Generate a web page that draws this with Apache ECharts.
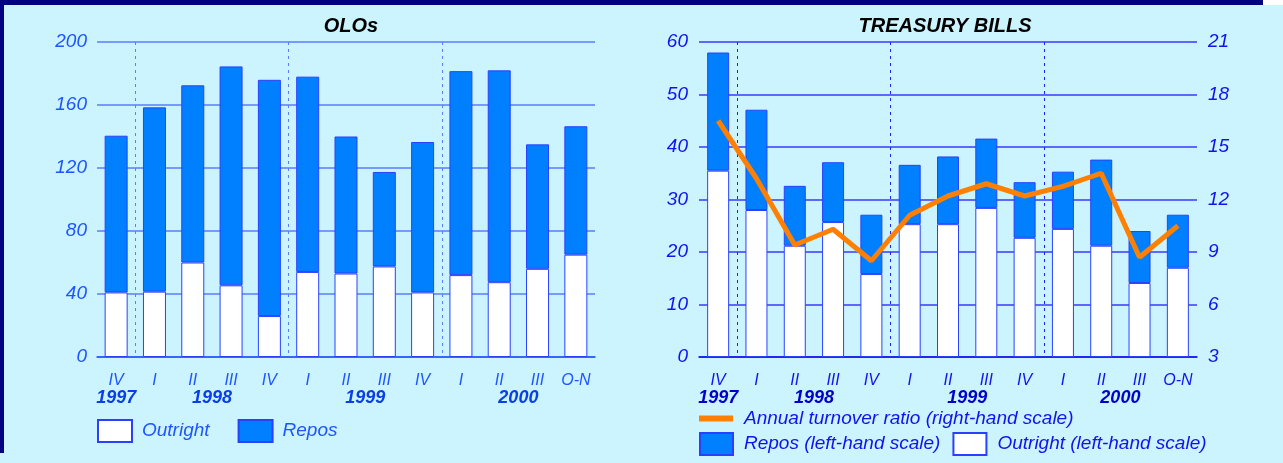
<!DOCTYPE html>
<html>
<head>
<meta charset="utf-8">
<script src="https://cdn.jsdelivr.net/npm/echarts@6/dist/echarts.min.js"></script>
<style>
  html, body { margin: 0; padding: 0; background: #ccf4fe; }
  #wrap { position: relative; width: 1283px; height: 463px; background: #ccf4fe; overflow: hidden; }
  #topband { position: absolute; left: 0; top: 0; width: 1263px; height: 5px; background: #000080; }
  #topwhite { position: absolute; left: 1263px; top: 0; width: 20px; height: 5px; background: #ffffff; }
  #leftband { position: absolute; left: 0; top: 0; width: 4px; height: 453px; background: #000080; }
  #chart { position: absolute; left: 0; top: 0; width: 1283px; height: 463px; }
</style>
</head>
<body>
<div id="wrap">
  <div id="topband"></div>
  <div id="topwhite"></div>
  <div id="leftband"></div>
  <div id="chart"></div>
</div>
<script>
// ---- Data ----
const quarters = ['IV', 'I', 'II', 'III', 'IV', 'I', 'II', 'III', 'IV', 'I', 'II', 'III', 'O-N'];
const yearLabels = ['1997', '1998', '1999', '2000'];
const yearStart = [0, 1, 5, 9];
const yearSpan = [1, 4, 4, 4];

const oloOutright = [41, 41.5, 60, 45.5, 26, 54, 53, 57.5, 41, 52, 47.5, 56, 65];
const oloRepos = [99.5, 117, 112.5, 139, 150, 124, 87, 60, 95.5, 129.5, 134.5, 79, 81.5];

const tbOutright = [35.5, 28, 21.2, 25.7, 15.8, 25.3, 25.3, 28.4, 22.7, 24.4, 21.2, 14.1, 17];
const tbRepos = [22.5, 19.1, 11.4, 11.4, 11.3, 11.3, 12.9, 13.2, 10.6, 10.9, 16.4, 9.9, 10.1];
const tbTurnover = [16.5, 13.2, 9.4, 10.3, 8.5, 11.1, 12.2, 12.9, 12.2, 12.75, 13.5, 8.7, 10.5];

const oloTicks = { min: 0, max: 200, interval: 40 };
const tbLeftTicks = { min: 0, max: 60, interval: 10 };
const tbRightTicks = { min: 3, max: 21, interval: 3 };

// ---- Derived helpers ----
// year label axis: half-category positions (boundaryGap false, 2n+1 points)
const halfCats = new Array(quarters.length * 2 + 1).fill('');
yearLabels.forEach((y, i) => { halfCats[2 * yearStart[i] + yearSpan[i]] = y; });
const separatorHalf = yearStart.filter(s => s > 0).map(s => 2 * s);

const FONT = '"Liberation Sans", Arial, sans-serif';
const leftTxt = '#1f55ff';
const rightTxt = '#1212ee';
const leftGrid = '#5b7dff';
const rightGrid = '#3a3aff';
const repoColor = '#0080ff';
const barBorder = '#2a40ff';

function catAxis(gridIndex, color) {
  return {
    type: 'category', gridIndex, data: quarters, position: 'bottom',
    axisLine: { show: true, lineStyle: { color: color, width: 1.5 } },
    axisTick: { show: false },
    axisLabel: { interval: 0, margin: 16, color: color, fontFamily: FONT, fontSize: 16, fontStyle: 'italic' },
    splitLine: { show: false }
  };
}
function yearAxis(gridIndex, color, sepColor) {
  return {
    type: 'category', gridIndex, data: halfCats, boundaryGap: false, position: 'bottom',
    axisLine: { show: false }, axisTick: { show: false },
    splitLine: { show: true, interval: (idx) => separatorHalf.includes(idx),
      lineStyle: { color: sepColor, width: 1, type: [3, 4] } },
    axisLabel: { interval: 0, margin: 32, color: color, fontFamily: FONT, fontSize: 18, fontStyle: 'italic', fontWeight: 'bold' }
  };
}

const chart = echarts.init(document.getElementById('chart'), null, { renderer: 'canvas' });
chart.setOption({
  backgroundColor: 'transparent',
  animation: false,
  title: [
    { text: 'OLOs', left: 346, top: 11, textAlign: 'center',
      textStyle: { fontFamily: FONT, fontSize: 20, fontStyle: 'italic', fontWeight: 'bold', color: '#000' } },
    { text: 'TREASURY BILLS', left: 940, top: 11, textAlign: 'center',
      textStyle: { fontFamily: FONT, fontSize: 20, fontStyle: 'italic', fontWeight: 'bold', color: '#000' } }
  ],
  grid: [
    { left: 97, top: 42, width: 498, height: 315 },
    { left: 699, top: 42, width: 498, height: 315 }
  ],
  legend: [
    { data: ['Outright', 'Repos'], left: 97, top: 419, padding: 0, itemWidth: 34, itemHeight: 22, itemGap: 28,
      icon: 'rect',
      textStyle: { fontFamily: FONT, fontSize: 19, fontStyle: 'italic', color: leftTxt, padding: [0, 0, 0, 5] } },
    { data: [{ name: 'Annual turnover ratio (right-hand scale)', icon: 'rect' }], left: 699, top: 409, padding: 0,
      itemWidth: 34, itemHeight: 6, itemGap: 10,
      textStyle: { fontFamily: FONT, fontSize: 19, fontStyle: 'italic', color: rightTxt, padding: [0, 0, 0, 6] } },
    { data: ['Repos (left-hand scale)', 'Outright (left-hand scale)'], left: 699, top: 432, padding: 0,
      itemWidth: 33, itemHeight: 22, itemGap: 12,
      icon: 'rect',
      textStyle: { fontFamily: FONT, fontSize: 19, fontStyle: 'italic', color: rightTxt, padding: [0, 0, 0, 6] } }
  ],
  xAxis: [
    catAxis(0, leftTxt),
    yearAxis(0, '#0a3ee8', leftGrid),
    catAxis(1, rightTxt),
    yearAxis(1, '#0000cc', '#2020ff')
  ],
  yAxis: [
    { type: 'value', gridIndex: 0, min: oloTicks.min, max: oloTicks.max, interval: oloTicks.interval,
      axisLine: { show: false }, axisTick: { show: false },
      axisLabel: { margin: 10, color: leftTxt, fontFamily: FONT, fontSize: 19, fontStyle: 'italic' },
      splitLine: { lineStyle: { color: leftGrid, width: 1.5 } } },
    { type: 'value', gridIndex: 1, min: tbLeftTicks.min, max: tbLeftTicks.max, interval: tbLeftTicks.interval,
      axisLine: { show: false }, axisTick: { show: false },
      axisLabel: { margin: 11, color: rightTxt, fontFamily: FONT, fontSize: 19, fontStyle: 'italic' },
      splitLine: { lineStyle: { color: rightGrid, width: 1.5 } } },
    { type: 'value', gridIndex: 1, position: 'right', min: tbRightTicks.min, max: tbRightTicks.max, interval: tbRightTicks.interval,
      axisLine: { show: false }, axisTick: { show: false },
      axisLabel: { margin: 11, color: rightTxt, fontFamily: FONT, fontSize: 19, fontStyle: 'italic' },
      splitLine: { show: false } }
  ],
  series: [
    { name: 'Outright', type: 'bar', stack: 'olo', xAxisIndex: 0, yAxisIndex: 0, data: oloOutright, barWidth: 23,
      itemStyle: { color: '#ffffff', borderColor: barBorder, borderWidth: 1 } },
    { name: 'Repos', type: 'bar', stack: 'olo', xAxisIndex: 0, yAxisIndex: 0, data: oloRepos, barWidth: 23,
      itemStyle: { color: repoColor, borderColor: barBorder, borderWidth: 1 } },
    { name: 'Outright (left-hand scale)', type: 'bar', stack: 'tb', xAxisIndex: 2, yAxisIndex: 1, data: tbOutright, barWidth: 22,
      itemStyle: { color: '#ffffff', borderColor: barBorder, borderWidth: 1 } },
    { name: 'Repos (left-hand scale)', type: 'bar', stack: 'tb', xAxisIndex: 2, yAxisIndex: 1, data: tbRepos, barWidth: 22,
      itemStyle: { color: repoColor, borderColor: barBorder, borderWidth: 1 } },
    { name: 'Annual turnover ratio (right-hand scale)', type: 'line', xAxisIndex: 2, yAxisIndex: 2, data: tbTurnover,
      symbol: 'none', z: 5,
      lineStyle: { color: '#ff8000', width: 5 }, itemStyle: { color: '#ff8000' } }
  ]
});
</script>
</body>
</html>
